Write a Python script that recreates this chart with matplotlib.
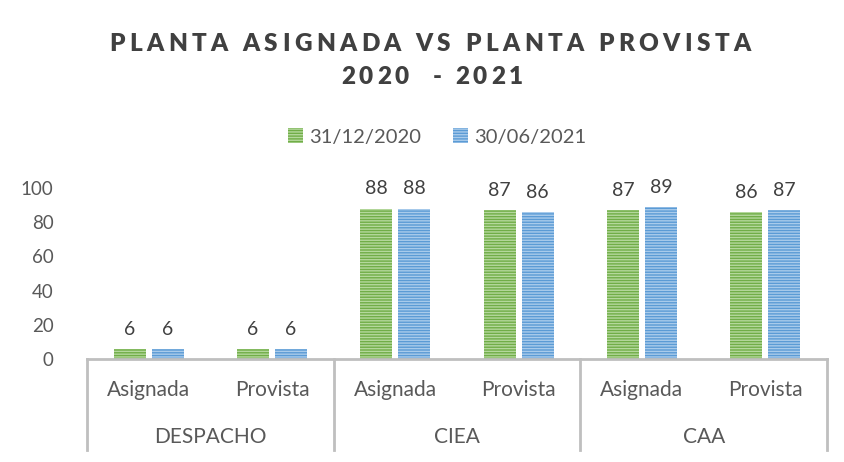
import numpy as np
import matplotlib.pyplot as plt
from matplotlib.font_manager import FontProperties

plt.rcParams['font.family'] = ['Lato', 'DejaVu Sans']
plt.rcParams['hatch.linewidth'] = 1.0

# datos
grupos = ['DESPACHO', 'CIEA', 'CAA']
tipos = ['Asignada', 'Provista']
serie_2020 = [6, 6, 88, 87, 87, 86]
serie_2021 = [6, 6, 88, 86, 89, 87]
etiquetas = ['31/12/2020', '30/06/2021']

verde = '#70AD47'
verde_claro = '#B4D89C'
azul = '#5B9BD5'
azul_claro = '#A9CBEB'
gris = '#595959'
linea = '#BFBFBF'

W, H = 844, 462
fig = plt.figure(figsize=(W / 100, H / 100), dpi=100)
ax = fig.add_axes([87 / W, 1 - 359 / H, 740 / W, 171 / H])

x = np.arange(len(serie_2020))
ancho = 0.26
off = 0.154
b1 = ax.bar(x - off, serie_2020, ancho, color=verde, edgecolor=verde_claro,
            linewidth=0, hatch='------', label=etiquetas[0])
b2 = ax.bar(x + off, serie_2021, ancho, color=azul, edgecolor=azul_claro,
            linewidth=0, hatch='------', label=etiquetas[1])

for barras in (b1, b2):
    for b in barras:
        ax.annotate(f'{b.get_height():.0f}', (b.get_x() + b.get_width() / 2, b.get_height()),
                    xytext=(0, 8), textcoords='offset points', ha='center', va='bottom',
                    fontsize=14, color='#404040')

ax.set_xlim(-0.5, 5.5)
ax.set_ylim(0, 100)
ax.set_yticks(range(0, 101, 20))
ax.tick_params(axis='y', length=0, pad=24, labelsize=13.5, labelcolor=gris)
ax.set_xticks([])
for s in ax.spines.values():
    s.set_visible(False)

# tabla de categorias bajo el eje
tr = ax.get_xaxis_transform()
ax.plot([-0.5, 5.5], [0, 0], color=linea, lw=2, transform=tr, clip_on=False)
for xv in [-0.5, 1.5, 3.5, 5.5]:
    ax.plot([xv, xv], [0, -0.535], color=linea, lw=2, transform=tr, clip_on=False)
for i in x:
    ax.text(i, -0.18, tipos[i % 2], transform=tr, ha='center', va='center',
            fontsize=15, color=gris)
for j, g in enumerate(grupos):
    ax.text(2 * j + 0.5, -0.455, g, transform=tr, ha='center', va='center',
            fontsize=15, color=gris)


# titulo con espaciado entre letras
def texto_espaciado(s, xc, yc, size, extra):
    fp = FontProperties(family='Lato', weight='heavy', size=size)
    r = fig.canvas.get_renderer()
    base = r.get_text_width_height_descent('||', fp, ismath=False)[0]
    anchos = [r.get_text_width_height_descent('|' + c + '|', fp, ismath=False)[0] - base for c in s]
    total = sum(anchos) + extra * (len(s) - 1)
    xp = xc - total / 2
    for c, a in zip(s, anchos):
        fig.text(xp / W, 1 - yc / H, c, fontproperties=fp, color='#404040', ha='left', va='center')
        xp += a + extra


texto_espaciado('PLANTA ASIGNADA VS PLANTA PROVISTA', 430, 44, 17.5, 4.4)
texto_espaciado('2020  - 2021', 432, 77, 17.5, 4.0)

fig.legend(handles=[b1, b2], labels=etiquetas, loc='center', bbox_to_anchor=(437 / W, 1 - 137 / H),
           ncol=2, frameon=False, fontsize=14.5, handlelength=0.75, handleheight=0.75,
           handletextpad=0.3, columnspacing=1.6, labelcolor=gris)

fig.savefig('out.png', dpi=100)
